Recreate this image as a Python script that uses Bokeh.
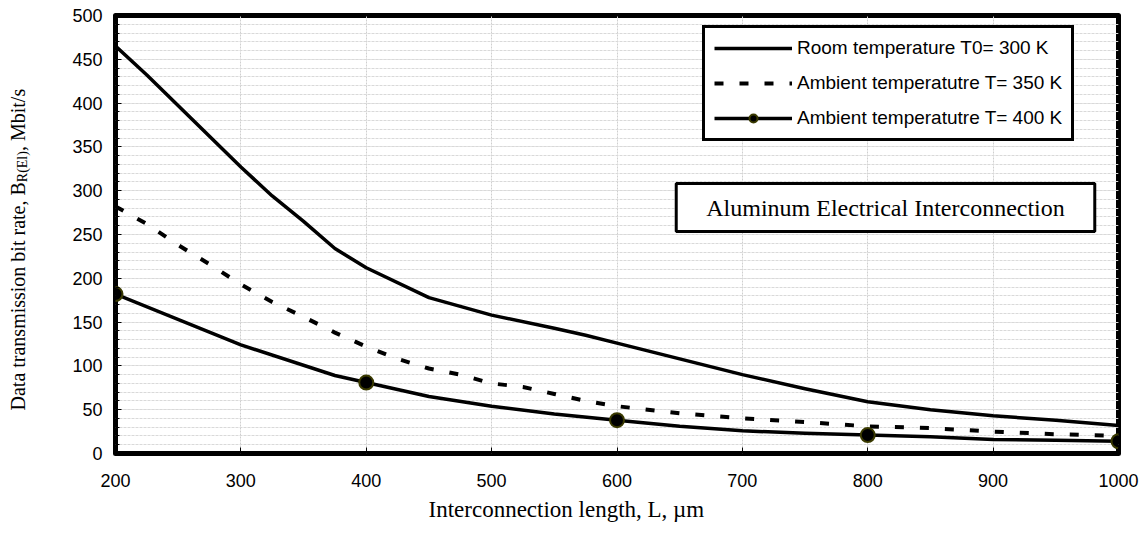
import math
from bokeh.plotting import figure
from bokeh.layouts import row
from bokeh.models import (Legend, LegendItem, Label, Title, SingleIntervalTicker, Range1d)
from bokeh.embed import file_html
from bokeh.resources import INLINE

# ---- data ----
x_300 = [200, 225, 300, 325, 350, 375, 400, 450, 500, 550, 575, 600, 650, 700, 750, 800, 850, 900, 950, 1000]
y_300 = [465, 432, 327, 294, 265, 234, 212, 178, 158, 143, 135, 126, 108, 90, 74, 59, 50, 43, 38, 32]

x_350 = [200, 225, 250, 275, 300, 325, 350, 375, 400, 425, 450, 475, 500, 525, 550, 575, 600, 650, 700, 750, 800, 850, 900, 950, 1000]
y_350 = [282, 262, 238, 216, 193, 173, 156, 138, 122, 108, 97, 90, 80, 76, 68, 60, 54, 46, 40, 36, 31, 29, 25, 22, 20]

x_400 = [200, 300, 375, 400, 450, 500, 550, 600, 650, 700, 750, 800, 850, 900, 950, 1000]
y_400 = [182, 124, 89, 81, 65, 54, 45, 38, 31, 26, 23, 21, 19, 16, 15, 14]
marker_x = [200, 400, 600, 800, 1000]

series_labels = ["Room temperature T0= 300 K",
                 "Ambient temperatutre T= 350 K",
                 "Ambient temperatutre T= 400 K"]
annotation_text = "Aluminum Electrical Interconnection"
x_title = "Interconnection length, L, \u00b5m"
y_title_parts = ["Data transmission bit rate, B", "R(El)", ", Mbit/s"]

mk_x = [x for x in x_400 if x in marker_x]
mk_y = [y for x, y in zip(x_400, y_400) if x in marker_x]

LEFT_W = 40

# ---- main figure ----
p = figure(width=1142 - LEFT_W, height=538, output_backend="svg", toolbar_location=None,
           x_range=Range1d(200, 1000), y_range=Range1d(0, 500),
           min_border_left=115 - LEFT_W, min_border_right=24, min_border_top=15, min_border_bottom=85)
p.background_fill_color = "white"
p.border_fill_color = "white"
p.outline_line_color = "black"
p.outline_line_width = 5
p.outline_line_join = "round"

p.xaxis.ticker = SingleIntervalTicker(interval=100, num_minor_ticks=0)
p.yaxis.ticker = SingleIntervalTicker(interval=50, num_minor_ticks=5)
p.axis.axis_line_color = None
p.axis.major_tick_line_color = "black"
p.axis.major_tick_in = 6
p.axis.major_tick_out = 0
p.xaxis.minor_tick_line_color = None
p.yaxis.minor_tick_line_color = "black"
p.yaxis.minor_tick_in = 4
p.yaxis.minor_tick_out = 0
p.axis.major_label_text_font = "Liberation Sans"
p.axis.major_label_text_font_size = "18px"
p.axis.major_label_text_color = "black"
p.xaxis.major_label_standoff = 20
p.yaxis.major_label_standoff = 13

p.xgrid.grid_line_color = "#cfcfcf"
p.xgrid.grid_line_dash = "2 1"
p.ygrid.grid_line_color = "#d9d9d9"
p.ygrid.grid_line_dash = "3 1"
p.ygrid.minor_grid_line_color = "#d9d9d9"
p.ygrid.minor_grid_line_dash = "3 1"

r1 = p.line(x_300, y_300, line_color="black", line_width=3.5, line_join="round")
r2 = p.line(x_350, y_350, line_color="black", line_width=4, line_dash="9 16")
r3 = p.line(x_400, y_400, line_color="black", line_width=3.5, line_join="round")
r3m = p.scatter(mk_x, mk_y, marker="circle", size=14, fill_color="black",
                line_color="#3a3a00", line_width=2)

legend = Legend(items=[LegendItem(label=series_labels[0], renderers=[r1]),
                       LegendItem(label=series_labels[1], renderers=[r2]),
                       LegendItem(label=series_labels[2], renderers=[r3, r3m])],
                location=(587, 312), orientation="vertical")
legend.border_line_color = "black"
legend.border_line_alpha = 1
legend.border_line_width = 3
legend.background_fill_color = "white"
legend.background_fill_alpha = 1
legend.padding = 9
legend.margin = 0
legend.spacing = 13
legend.glyph_width = 78
legend.glyph_height = 20
legend.label_height = 20
legend.label_standoff = 5
legend.label_text_font = "Liberation Sans"
legend.label_text_font_size = "19px"
legend.label_text_color = "black"
p.add_layout(legend)

ann = Label(x=770, y=246, x_units="screen", y_units="screen", text=annotation_text,
            text_font="Liberation Serif", text_font_size="24px", text_color="black",
            text_align="center", text_baseline="middle",
            border_line_color="black", border_line_width=3,
            background_fill_color="white", background_fill_alpha=1,
            padding=dict(left=30, right=30, top=11, bottom=11))
p.add_layout(ann)

# x title below the axis
p.add_layout(Title(text=x_title, align="left", offset=313, standoff=10,
                   text_font="Liberation Serif", text_font_size="23px",
                   text_font_style="normal", text_color="black"), "below")

# ---- narrow left strip carrying the y title (with subscript) ----
q = figure(width=LEFT_W, height=538, output_backend="svg", toolbar_location=None,
           x_range=Range1d(0, 1), y_range=Range1d(0, 1),
           x_axis_type=None, y_axis_type=None, min_border=0)
q.outline_line_color = None
q.background_fill_color = "white"
q.border_fill_color = "white"
q.xgrid.visible = False
q.ygrid.visible = False

# the strip's frame is aligned with the main frame (bottom at canvas y = 453)
base_y = 453 - 410   # bottom end of the title, measured from the frame bottom
w_main = 11.416 * 20
w_sub = 2.222 * 14
q.add_layout(Label(x=17, y=base_y, x_units="screen", y_units="screen", text=y_title_parts[0],
                   angle=math.pi / 2, text_font="Liberation Serif", text_font_size="20px",
                   text_color="black", text_align="left", text_baseline="middle"))
q.add_layout(Label(x=22, y=base_y + w_main, x_units="screen", y_units="screen", text=y_title_parts[1],
                   angle=math.pi / 2, text_font="Liberation Serif", text_font_size="14px",
                   text_color="black", text_align="left", text_baseline="middle"))
q.add_layout(Label(x=17, y=base_y + w_main + w_sub, x_units="screen", y_units="screen", text=y_title_parts[2],
                   angle=math.pi / 2, text_font="Liberation Serif", text_font_size="20px",
                   text_color="black", text_align="left", text_baseline="middle"))

layout = row(q, p, spacing=0)
open("out.html", "w").write(file_html(layout, INLINE))
